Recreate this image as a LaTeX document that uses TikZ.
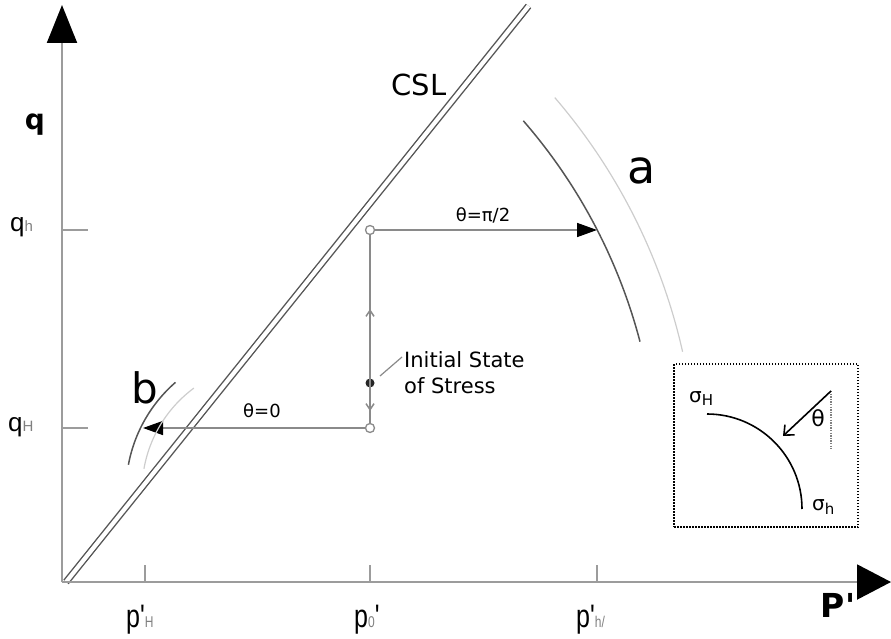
\documentclass[tikz,border=0pt]{standalone}
\usepackage{fontspec}
\setmainfont{DejaVu Sans}
\newfontfamily\tickfont{Liberation Sans}
\usepackage{graphicx}
\usetikzlibrary{
  arrows.meta,
  positioning
}
\definecolor{axisgray}{HTML}{9C9C9C}
\definecolor{linegray}{HTML}{8A8A8A}
\definecolor{darkarc}{HTML}{555555}
\definecolor{lightarc}{HTML}{CDCDCD}
\definecolor{cslgray}{HTML}{555555}
\newcommand{\lsub}[1]{{\fontsize{12}{12}\selectfont\color{gray}#1}}
\newcommand{\plab}[1]{\scalebox{1}[1.3]{\tickfont\fontsize{25}{27}\selectfont #1}}
\newcommand{\qlab}[1]{\tickfont\fontsize{26}{28}\selectfont q{\fontsize{15}{15}\selectfont\color{gray}#1}}
\tikzset{
  axisline/.style={draw=axisgray,line width=2pt},
  tickline/.style={draw=axisgray,line width=1.2pt},
  csl/.style={draw=cslgray,line width=1.4pt,double=white,double distance=4.2pt},
  arr/.style={-{Triangle[length=20pt,width=14pt,color=black]},draw=linegray,line width=1.6pt},
  vline/.style={draw=linegray,line width=1.5pt},
  opendot/.style={circle,draw=linegray,fill=white,line width=1.3pt,inner sep=0pt,minimum size=9pt},
  fulldot/.style={circle,fill=black!85,inner sep=0pt,minimum size=9pt},
  arcdark/.style={draw=darkarc,line width=1.5pt},
  arclight/.style={draw=lightarc,line width=1.2pt},
  insetbox/.style={rectangle,draw=black,line width=1.5pt,dash pattern=on 1.5pt off 1.5pt,inner sep=0pt}
}

\begin{document}
\begin{tikzpicture}[x=1pt,y=1pt,
  lbl/.style={inner sep=0pt,font=\fontsize{18}{20}\selectfont}]
  \useasboundingbox (0,0) rectangle (891,-639);

  % axes
  \coordinate (O) at (62,-582);
  \coordinate (ytip) at (62,-5);
  \coordinate (xtip) at (891,-582);
  \coordinate (cslA) at (66,-582);
  \coordinate (cslB) at (528.5,-6);
  \draw[csl] (cslA) -- (cslB);
  \draw[axisline,-{Triangle[length=38pt,width=30pt,color=black]}] (O) -- (ytip);
  \draw[axisline,-{Triangle[length=34pt,width=35pt,color=black]}] (O) -- (xtip);

  \foreach \px/\nm in {145/tH,370/t0,597/th}
    \draw[tickline] (\px,-565) coordinate (\nm) -- (\px,-582);
  \foreach \py/\nm in {230/qa,428/qb}
    \draw[tickline] (62,-\py) -- (88,-\py) coordinate (\nm);

  \node[lbl,anchor=base west] (lpH) at (126,-627) {\plab{p\textquotesingle\lsub{H}}};
  \node[lbl,anchor=base west] (lp0) at (354,-627) {\plab{p\lsub{0}\textquotesingle}};
  \node[lbl,anchor=base west] (lph) at (576,-627) {\plab{p\textquotesingle\lsub{h/}}};
  \node[lbl,anchor=base west] (lqh) at (10,-231) {\qlab{h}};
  \node[lbl,anchor=base west] (lqH) at (8,-431) {\qlab{H}};
  \node[lbl,font=\bfseries\fontsize{28}{30}\selectfont] (lq) at (35,-125) {q};
  \node[lbl,font=\bfseries\fontsize{33}{35}\selectfont] (lP) at (838,-605) {P\textquotesingle};
  \node[lbl,font=\fontsize{29}{30}\selectfont] (lcsl) at (419,-85) {CSL};

  % stress paths
  \node[opendot] (top) at (370,-230) {};
  \node[opendot] (bot) at (370,-428) {};
  \node[fulldot] (init) at (370,-383) {};
  \coordinate (ha) at (597,-230);
  \coordinate (hb) at (143,-428);
  \coordinate (upt) at (370,-309);
  \coordinate (dnt) at (370,-411);
  \draw[vline] (bot) -- (top);
  \draw[vline,-{Straight Barb[length=6pt,width=8pt]}] (init) -- (upt);
  \draw[vline,-{Straight Barb[length=6pt,width=8pt]}] (init) -- (dnt);
  \draw[arr] (top) -- (ha);
  \draw[arr] (bot) -- (hb);
  \node[lbl] (lpi) at (483,-215) {θ=π/2};
  \node[lbl] (lzero) at (262,-411) {θ=0};

  \node[lbl,anchor=west,align=left,font=\fontsize{21}{26}\selectfont] (ilab) at (404,-373) {Initial State\\of Stress};
  \coordinate (ld1) at (380,-376);
  \coordinate (ld2) at (402,-357);
  \draw[draw=linegray,line width=1.2pt] (ld1) -- (ld2);

  % yield arcs
  \coordinate (ca) at (109,-481);
  \coordinate (cb) at (270,-491);
  \draw[arcdark] (ca) ++(41:549) arc[start angle=41,end angle=14.7,radius=549];
  \draw[arclight] (ca) ++(40.7:588) arc[start angle=40.7,end angle=12.7,radius=588];
  \draw[arcdark] (cb) ++(131:144) arc[start angle=131,end angle=169.5,radius=144];
  \draw[arclight] (cb) ++(126.5:128) arc[start angle=126.5,end angle=170,radius=128];
  \node[lbl,font=\fontsize{46}{48}\selectfont] (la) at (642,-171) {a};
  \node[lbl,font=\fontsize{42}{44}\selectfont] (lb) at (145,-388) {b};

  % inset
  \node[insetbox,minimum width=184pt,minimum height=163pt] (inset) at (766,-445.5) {};
  \coordinate (cs) at (707,-509);
  \draw[draw=black,line width=1.6pt] (cs) ++(90:95) arc[start angle=90,end angle=0,radius=95];
  \node[lbl,anchor=base west,font=\fontsize{20}{22}\selectfont] (sH) at (689,-402) {σ\raisebox{-0.35ex}{\fontsize{15}{15}\selectfont H}};
  \node[lbl,anchor=base west,font=\fontsize{20}{22}\selectfont] (sh) at (812,-510) {σ\raisebox{-0.4ex}{\fontsize{15}{15}\selectfont h}};
  \coordinate (th0) at (831,-391);
  \coordinate (th1) at (783,-436);
  \coordinate (th2) at (831,-449);
  \draw[draw=gray,line width=1.3pt,dash pattern=on 1.3pt off 1.3pt] (th0) -- (th2);
  \draw[draw=black,line width=1.6pt,-{Straight Barb[length=8pt,width=14pt]}] (th0) -- (th1);
  \node[lbl,font=\fontsize{22}{24}\selectfont] (lth) at (818,-418) {θ};

\end{tikzpicture}
\end{document}
